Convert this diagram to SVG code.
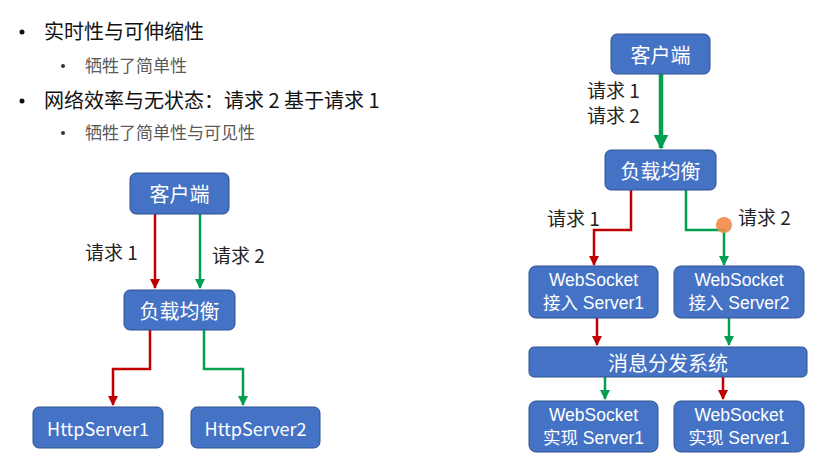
<svg xmlns="http://www.w3.org/2000/svg" width="838" height="467" viewBox="0 0 838 467">
<defs>
<style>
text{font-family:"Noto Sans CJK SC","Microsoft YaHei",sans-serif}
.box{fill:#4472C4;stroke:#2F528F;stroke-width:1}
.bt{fill:#fff;font-size:18px;text-anchor:middle;dominant-baseline:central}
.bc{fill:#fff;font-size:20px;text-anchor:middle;dominant-baseline:central}
.b2{fill:#fff;font-size:17.5px;text-anchor:middle;dominant-baseline:central;font-family:"Liberation Sans","Noto Sans CJK SC",sans-serif}
.lbl{fill:#222;font-size:19px}
.h1{fill:#111;font-size:20px}
.h2{fill:#595959;font-size:17px}
.r{stroke:#C00000;stroke-width:2.5;fill:none}
.g{stroke:#00A050;stroke-width:2.5;fill:none}
</style>
<marker id="ar" viewBox="0 0 10 10" refX="9" refY="5" markerWidth="4" markerHeight="4" orient="auto"><path d="M0,0L10,5L0,10z" fill="#C00000"/></marker>
<marker id="ag" viewBox="0 0 10 10" refX="9" refY="5" markerWidth="4" markerHeight="4" orient="auto"><path d="M0,0L10,5L0,10z" fill="#00A050"/></marker>
<marker id="agb" viewBox="0 0 10 10" refX="9" refY="5" markerWidth="3.2" markerHeight="3.2" orient="auto"><path d="M0,0L10,5L0,10z" fill="#00A050"/></marker>
</defs>
<rect width="838" height="467" fill="#fff"/>
<g id="bullets">
<circle cx="22" cy="32" r="2.5" fill="#111"/>
<text class="h1" x="44" y="39">实时性与可伸缩性</text>
<circle cx="63" cy="66" r="2" fill="#333"/>
<text class="h2" x="85" y="72">牺牲了简单性</text>
<circle cx="22" cy="101" r="2.5" fill="#111"/>
<text class="h1" x="44" y="108">网络效率与无状态：请求 2 基于请求 1</text>
<circle cx="63" cy="133" r="2" fill="#333"/>
<text class="h2" x="85" y="139">牺牲了简单性与可见性</text>
</g>
<g id="connectors">
<line class="r" x1="155" y1="214" x2="155" y2="288" marker-end="url(#ar)"/>
<line class="g" x1="200" y1="214" x2="200" y2="288" marker-end="url(#ag)"/>
<polyline class="r" points="150,330 150,369 113,369 113,405" marker-end="url(#ar)"/>
<polyline class="g" points="204,330 204,369 243,369 243,405" marker-end="url(#ag)"/>
<line x1="661" y1="74" x2="661" y2="148" stroke="#00A050" stroke-width="4.5" marker-end="url(#agb)"/>
<polyline class="r" points="631,190 631,230 594,230 594,265" marker-end="url(#ar)"/>
<polyline class="g" points="686,190 686,230 724,230 724,265" marker-end="url(#ag)"/>
<line class="r" x1="597" y1="318" x2="597" y2="345" marker-end="url(#ar)"/>
<line class="g" x1="729" y1="318" x2="729" y2="345" marker-end="url(#ag)"/>
<line class="g" x1="605" y1="377" x2="605" y2="399" marker-end="url(#ag)"/>
<line class="r" x1="723" y1="377" x2="723" y2="399" marker-end="url(#ar)"/>
</g>
<g id="labels">
<text class="lbl" x="85" y="260">请求 1</text>
<text class="lbl" x="212" y="263">请求 2</text>
<text class="lbl" x="587" y="98">请求 1<tspan x="587" dy="25">请求 2</tspan></text>
<text class="lbl" x="547" y="226">请求 1</text>
<text class="lbl" x="738" y="225">请求 2</text>
</g>
<g id="l-client"><rect class="box" x="130" y="173" width="99" height="41" rx="6"/><text class="bc" x="179.5" y="193.5">客户端</text></g>
<g id="l-lb"><rect class="box" x="124" y="290" width="111" height="40" rx="6"/><text class="bc" x="179.5" y="310">负载均衡</text></g>
<g id="l-hs1"><rect class="box" x="33" y="407" width="130" height="41" rx="6"/><text class="bt" x="98" y="427.5">HttpServer1</text></g>
<g id="l-hs2"><rect class="box" x="191" y="407" width="129" height="41" rx="6"/><text class="bt" x="255.5" y="427.5">HttpServer2</text></g>
<g id="r-client"><rect class="box" x="611" y="34" width="99" height="40" rx="6"/><text class="bc" x="660.5" y="54">客户端</text></g>
<g id="r-lb"><rect class="box" x="605" y="150" width="111" height="40" rx="6"/><text class="bc" x="660.5" y="170">负载均衡</text></g>
<g id="ws-in1"><rect class="box" x="529" y="266" width="129" height="52" rx="7"/><text class="b2" x="593.5" y="280">WebSocket</text><text class="b2" x="593.5" y="303">接入 Server1</text></g>
<g id="ws-in2"><rect class="box" x="674" y="266" width="130" height="52" rx="7"/><text class="b2" x="739" y="280">WebSocket</text><text class="b2" x="739" y="303">接入 Server2</text></g>
<g id="msg"><rect class="box" x="529" y="347" width="278" height="30" rx="5"/><text class="bc" x="668" y="362">消息分发系统</text></g>
<g id="ws-impl1"><rect class="box" x="529" y="401" width="129" height="51" rx="7"/><text class="b2" x="593.5" y="415">WebSocket</text><text class="b2" x="593.5" y="438">实现 Server1</text></g>
<g id="ws-impl2"><rect class="box" x="674" y="401" width="130" height="51" rx="7"/><text class="b2" x="739" y="415">WebSocket</text><text class="b2" x="739" y="438">实现 Server1</text></g>
<circle id="cursor" cx="724" cy="225" r="8" fill="#F08A4B" opacity="0.9"/>
</svg>
